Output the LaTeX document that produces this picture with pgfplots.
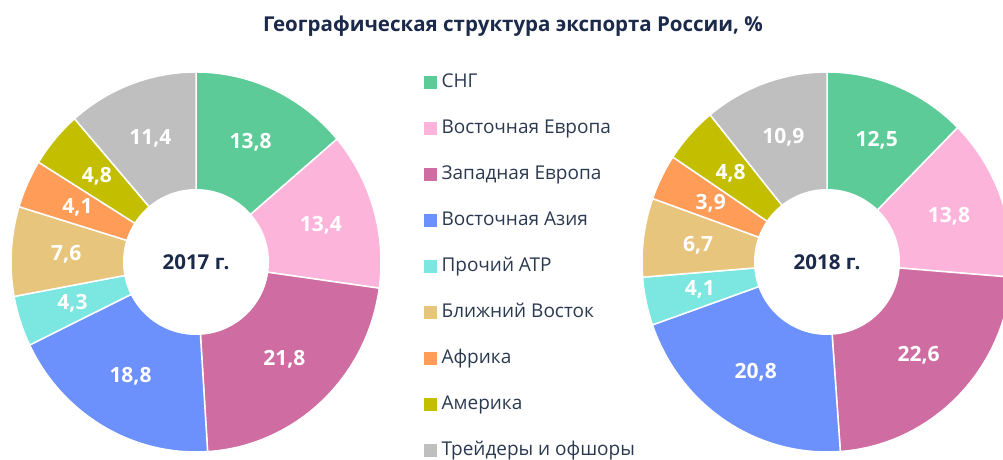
\documentclass[border=0pt]{standalone}
\usepackage{pgfplots}
\pgfplotsset{compat=1.18}
\usepackage{pgfplotstable}
\usepackage{fontspec}
\setmainfont{Open Sans}
\definecolor{cSNG}{HTML}{5DCB97}
\definecolor{cVE}{HTML}{FDB4DB}
\definecolor{cZE}{HTML}{CF6CA2}
\definecolor{cVA}{HTML}{6C91FC}
\definecolor{cATR}{HTML}{7CE7E0}
\definecolor{cBV}{HTML}{E8C57C}
\definecolor{cAF}{HTML}{FF9C58}
\definecolor{cAM}{HTML}{C4BE00}
\definecolor{cTR}{HTML}{BFBFBF}
\definecolor{ttl}{HTML}{1B2A4A}
\definecolor{legtxt}{HTML}{2B3950}

\pgfplotstableread{
v c
13.8 cSNG
13.4 cVE
21.8 cZE
18.8 cVA
4.3 cATR
7.6 cBV
4.1 cAF
4.8 cAM
11.4 cTR
}\dataA
\pgfplotstableread{
v c
12.5 cSNG
13.8 cVE
22.6 cZE
20.8 cVA
4.1 cATR
6.7 cBV
3.9 cAF
4.8 cAM
10.9 cTR
}\dataB

\tikzset{lbl/.style={text=white,font=\bfseries\fontsize{21}{25}\selectfont,inner sep=0pt}}

\newcommand{\drawdonut}[4]{%
  \pgfplotstablegetrowsof{#1}\pgfmathtruncatemacro\N{\pgfplotsretval-1}%
  \def\tot{0}%
  \pgfplotsforeachungrouped \i in {0,...,\N}{\pgfplotstablegetelem{\i}{v}\of{#1}\pgfmathsetmacro\tot{\tot+\pgfplotsretval}}%
  \def\run{0}%
  \pgfplotsforeachungrouped \i in {0,...,\N}{%
    \pgfplotstablegetelem{\i}{v}\of{#1}\let\val\pgfplotsretval
    \pgfplotstablegetelem{\i}{c}\of{#1}\let\col\pgfplotsretval
    \pgfmathsetmacro\aS{90-(\run/\tot)*360}%
    \pgfmathsetmacro\run{\run+\val}%
    \pgfmathsetmacro\aE{90-(\run/\tot)*360}%
    \pgfmathsetmacro\aM{(\aS+\aE)/2}%
    \pgfmathsetmacro\lx{#2+130*cos(\aM)}%
    \pgfmathsetmacro\ly{#3+132*sin(\aM)}%
    \edef\tmp{\noexpand\fill[\col,draw=white,line width=1.5pt] (axis cs:#2,#3) -- ++(\aS:185pt and 190pt) arc[start angle=\aS,end angle=\aE,x radius=185pt,y radius=190pt] -- cycle;
      \noexpand\node[lbl] at (axis cs:\lx,\ly) {\noexpand\pgfmathprintnumber[assume math mode=true,use comma,fixed,precision=1,fixed zerofill]{\val}};}%
    \tmp
  }%
  \fill[white] (axis cs:#2,#3) circle[radius=73pt];
  \node[text=ttl,font=\bfseries\fontsize{20.5}{24}\selectfont] at (axis cs:#2,#3) {#4};
}

\begin{document}
\begin{tikzpicture}
\begin{axis}[
  scale only axis, width=1003pt, height=459pt,
  xmin=0, xmax=1003, ymin=0, ymax=459,
  hide axis, clip=true,
  legend style={draw=none, fill=none, inner sep=0pt, at={(axis cs:424,387)}, anchor=north west,
    row sep=26pt, column sep=5pt, font=\fontsize{19}{23}\selectfont, text=legtxt,
    nodes={inner sep=0pt, text height=15pt, text depth=5pt, anchor=west}},
  legend cell align=left,
  legend image code/.code={\fill[#1] (0pt,-6pt) rectangle (12pt,6pt);},
]
\drawdonut{\dataA}{196}{197}{2017 г.}
\drawdonut{\dataB}{827}{197}{2018 г.}
\node[text=ttl,font=\bfseries\fontsize{20.5}{25}\selectfont] at (axis cs:513,433) {Географическая структура экспорта России, \%};
\addlegendimage{cSNG}\addlegendentry{СНГ}
\addlegendimage{cVE}\addlegendentry{Восточная Европа}
\addlegendimage{cZE}\addlegendentry{Западная Европа}
\addlegendimage{cVA}\addlegendentry{Восточная Азия}
\addlegendimage{cATR}\addlegendentry{Прочий АТР}
\addlegendimage{cBV}\addlegendentry{Ближний Восток}
\addlegendimage{cAF}\addlegendentry{Африка}
\addlegendimage{cAM}\addlegendentry{Америка}
\addlegendimage{cTR}\addlegendentry{Трейдеры и офшоры}
\end{axis}
\pgfresetboundingbox
\path[use as bounding box] (0,0) rectangle (1003pt,459pt);
\end{tikzpicture}
\end{document}
